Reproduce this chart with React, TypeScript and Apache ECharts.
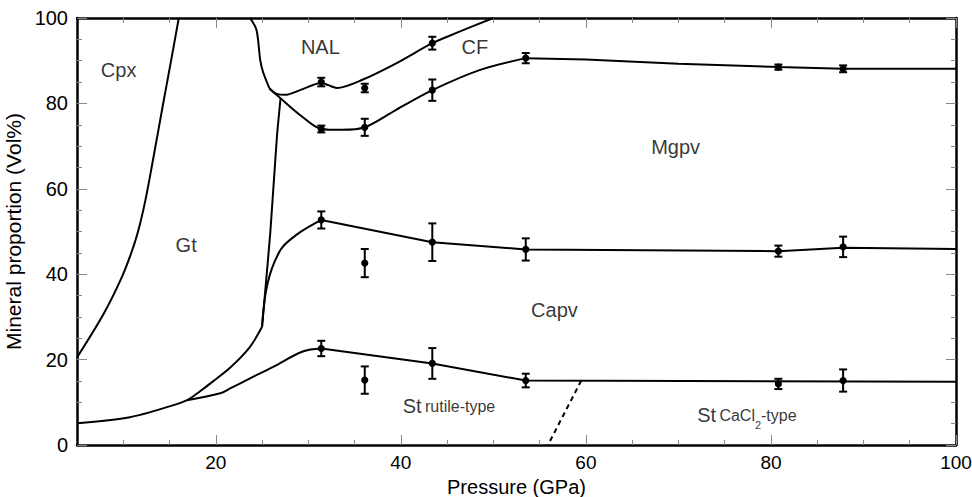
import React, { useEffect, useRef } from 'react';
import * as echarts from 'echarts';

// ---- axis ticks ----
const xTickLabels = [20, 40, 60, 80, 100];
const xMinorTicks = [10, 15, 25, 30, 35, 45, 50, 55, 65, 70, 75, 85, 90, 95];
const yTickLabels = [0, 20, 40, 60, 80, 100];

// ---- phase boundary curves [pressure GPa, vol%] ----
const cpxGtBoundary = [
  [5, 20.5], [7.9, 30.8], [9.7, 38.6], [10.8, 44.6], [11.6, 50], [12.4, 57.4],
  [13.3, 67.8], [14.3, 79.8], [15.1, 89.2], [16, 100],
];
const gtTopBoundary = [
  [23.7, 100], [24.4, 97.2], [24.8, 90.2], [25.1, 87.4], [25.8, 83.5],
];
const nalCfBoundary = [
  [25.8, 83.5], [26.5, 82.3], [27.5, 82], [29.1, 83.1], [31.4, 84.8], [33.1, 83.6],
  [35.9, 85.6], [39.5, 89.4], [43.4, 94.1], [46, 96.5], [50, 100],
];
const cfMgpvBoundary = [
  [25.8, 83.5], [27, 81.2], [29.1, 77.3], [31.4, 74], [33.6, 73.8], [36.1, 74.4],
  [39.5, 78.5], [43.4, 83.1], [48.5, 87.8], [53.5, 90.6],
];
const cfMgpvPlateau = [
  [53.5, 90.6], [60, 90.3], [70, 89.3], [80.8, 88.5], [87.8, 88.1], [100, 88.1],
];
const gtMgpvBoundary = [
  [27, 81.2], [26.6, 72], [25.9, 50], [25.3, 35], [25, 27.7],
];
const capvRise = [
  [25, 27.7], [25.6, 37.9], [27, 45.7], [28.7, 49.2], [31.4, 52.7],
];
const capvPlateau = [
  [31.4, 52.7], [43.4, 47.5], [53.5, 45.8], [80.8, 45.4], [87.8, 46.2], [100, 45.9],
];
const gtBottomBoundary = [
  [5, 5.1], [10.7, 6.5], [15.1, 9.1], [16.9, 10.5], [18.3, 12.6], [19.7, 14.9],
  [21.6, 18.2], [23.7, 23], [25, 27.7],
];
const stRise = [
  [16.9, 10.5], [20.5, 12.1], [21.6, 13.3], [23.7, 15.6], [26.2, 18.3], [29.4, 21.9],
  [31.4, 22.6],
];
const stPlateau = [[31.4, 22.6], [43.4, 19.1], [53.5, 15.1], [100, 14.8]];
const stTransition = [[59.5, 15.1], [55.9, 0]];

// ---- measured points [pressure, vol%, error] ----
const mgpvPoints = [
  [31.4, 74, 0.8], [36.1, 74.4, 2], [43.4, 83.1, 2.5], [53.5, 90.6, 1.2],
  [80.8, 88.5, 0.6], [87.8, 88.1, 0.8],
];
const nalPoints = [[31.4, 85, 1], [36.1, 83.6, 1], [43.4, 94.1, 1.5]];
const capvPoints = [
  [31.4, 52.7, 2], [36.1, 42.6, 3.3], [43.4, 47.5, 4.4], [53.5, 45.8, 2.6],
  [80.8, 45.4, 1.3], [87.8, 46.4, 2.4],
];
const stPoints = [
  [31.4, 22.6, 1.8], [36.1, 15.2, 3.2], [43.4, 19.1, 3.6], [53.5, 15.1, 1.6],
  [80.8, 14.3, 1.2], [87.8, 15.1, 2.6],
];

// ---- region labels ----
const regionLabels = [
  { name: '{big|Cpx}', value: [9.5, 87.8] },
  { name: '{big|NAL}', value: [31.3, 93.2] },
  { name: '{big|CF}', value: [48, 93.2] },
  { name: '{big|Mgpv}', value: [69.7, 69.8] },
  { name: '{big|Gt}', value: [16.8, 46.8] },
  { name: '{big|Capv}', value: [56.6, 31.6] },
  { name: '{big|St} {small|rutile-type}', value: [45.2, 9.1] },
  { name: '{big|St} {small|CaCl}{sub|2}{small|-type}', value: [77.4, 7.0] },
];

const FONT = 'Liberation Sans, Arial, sans-serif';

function curve(data: number[][], smooth: number | boolean = 0.3, dashed = false) {
  return {
    type: 'line',
    data,
    smooth,
    symbol: 'none',
    showSymbol: false,
    silent: true,
    lineStyle: { color: '#000', width: 2, type: dashed ? [5, 4] : 'solid' },
    z: 3,
  };
}

function errorSeries(data: number[][]) {
  return {
    type: 'custom',
    data,
    encode: { x: 0, y: 1 },
    silent: true,
    z: 5,
    renderItem: (_params: any, api: any) => {
      const x = api.value(0);
      const y = api.value(1);
      const e = api.value(2);
      const c = api.coord([x, y]);
      const hi = api.coord([x, y + e]);
      const lo = api.coord([x, y - e]);
      const w = 4;
      const style = { stroke: '#000', lineWidth: 2 };
      return {
        type: 'group',
        children: [
          { type: 'line', shape: { x1: c[0], y1: hi[1], x2: c[0], y2: lo[1] }, style },
          { type: 'line', shape: { x1: c[0] - w, y1: hi[1], x2: c[0] + w, y2: hi[1] }, style },
          { type: 'line', shape: { x1: c[0] - w, y1: lo[1], x2: c[0] + w, y2: lo[1] }, style },
          { type: 'circle', shape: { cx: c[0], cy: c[1], r: 3.6 }, style: { fill: '#000' } },
        ],
      };
    },
  };
}

const tickStyle = { color: '#888', width: 1 };
const axisLineStyle = { color: '#000', width: 2.5 };

function xAxisDef(position: 'bottom' | 'top', major: boolean) {
  return {
    type: 'value',
    position,
    min: 5,
    max: 100,
    interval: 5,
    splitLine: { show: false },
    axisLine: { show: major, onZero: false, lineStyle: axisLineStyle },
    axisTick: {
      show: true,
      inside: true,
      length: major ? 10 : 5,
      customValues: major ? xTickLabels : xMinorTicks,
      lineStyle: tickStyle,
    },
    axisLabel: {
      show: major && position === 'bottom',
      customValues: xTickLabels,
      fontSize: 19,
      color: '#000',
      fontFamily: FONT,
      margin: 8,
    },
    name: major && position === 'bottom' ? 'Pressure (GPa)' : '',
    nameLocation: 'middle',
    nameGap: 27,
    nameTextStyle: { fontSize: 20, lineHeight: 20, color: '#000', fontFamily: FONT },
  };
}

function yAxisDef(position: 'left' | 'right') {
  return {
    type: 'value',
    position,
    min: 0,
    max: 100,
    interval: 20,
    splitLine: { show: false },
    axisLine: { show: true, onZero: false, lineStyle: axisLineStyle },
    axisTick: { show: true, inside: true, length: 10, lineStyle: tickStyle },
    minorTick: { show: true, splitNumber: 4, length: 5, lineStyle: tickStyle },
    minorSplitLine: { show: false },
    axisLabel: {
      show: position === 'left',
      customValues: yTickLabels,
      fontSize: 20,
      color: '#000',
      fontFamily: FONT,
      margin: 9,
    },
    name: position === 'left' ? 'Mineral proportion (Vol%)' : '',
    nameLocation: 'middle',
    nameGap: 45,
    nameTextStyle: { fontSize: 21, color: '#000', fontFamily: FONT },
  };
}

export default function App() {
  const ref = useRef<HTMLDivElement>(null);
  useEffect(() => {
    if (!ref.current) return;
    const chart = echarts.init(ref.current, undefined, { renderer: 'svg' });
    chart.setOption({
      animation: false,
      backgroundColor: '#fff',
      grid: { left: 77, right: 16, top: 18, bottom: 52, containLabel: false, outerBoundsMode: 'none' },
      xAxis: [
        xAxisDef('bottom', true),
        xAxisDef('bottom', false),
        xAxisDef('top', true),
        xAxisDef('top', false),
      ],
      yAxis: [yAxisDef('left'), yAxisDef('right')],
      series: [
        curve(cpxGtBoundary, 0.35),
        curve(gtTopBoundary, 0.3),
        curve(nalCfBoundary, 0.3),
        curve(cfMgpvBoundary, 0.3),
        curve(cfMgpvPlateau, false),
        curve(gtMgpvBoundary, 0.2),
        curve(capvRise, 0.35),
        curve(capvPlateau, false),
        curve(gtBottomBoundary, 0.3),
        curve(stRise, 0.35),
        curve(stPlateau, false),
        curve(stTransition, false, true),
        errorSeries(mgpvPoints),
        errorSeries(nalPoints),
        errorSeries(capvPoints),
        errorSeries(stPoints),
        {
          type: 'scatter',
          data: regionLabels,
          symbolSize: 0,
          silent: true,
          z: 6,
          label: {
            show: true,
            position: 'inside',
            formatter: (p: any) => p.name,
            color: '#000',
            fontFamily: FONT,
            rich: {
              big: { fontSize: 20, fontFamily: FONT, color: '#000', lineHeight: 22 },
              small: { fontSize: 16, fontFamily: FONT, color: '#000', lineHeight: 22 },
              sub: { fontSize: 11, fontFamily: FONT, color: '#000', lineHeight: 12, verticalAlign: 'bottom', padding: [0, 0, -4, 0] },
            },
          },
        },
      ],
    });
    return () => chart.dispose();
  }, []);
  return (
    <div
      ref={ref}
      style={{ position: 'fixed', left: 0, top: 0, width: 972, height: 497, background: '#fff' }}
    />
  );
}
